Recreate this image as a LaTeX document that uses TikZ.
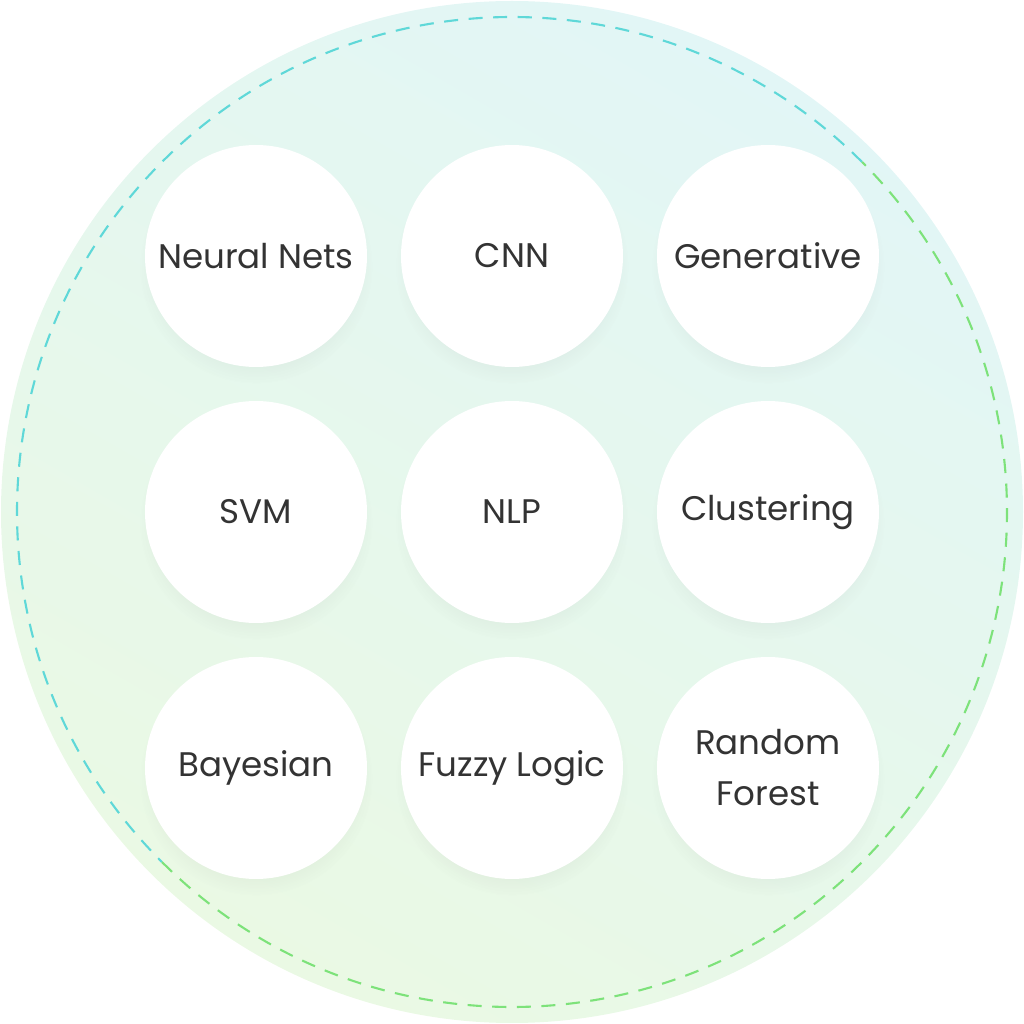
\documentclass[tikz,border=0pt]{standalone}
\usepackage{fontspec}
\setmainfont{Poppins}
\usetikzlibrary{shadows}
\definecolor{ringcyan}{HTML}{5FD8D8}
\definecolor{ringgreen}{HTML}{7DE27A}
\definecolor{bgcyan}{HTML}{E2F6F6}
\definecolor{bggreen}{HTML}{EAF9E4}
\definecolor{labeltext}{HTML}{333333}
\tikzset{
    topic/.style={circle, minimum size=2.22cm, inner sep=0pt, fill=white, align=center,
        font=\fontsize{9.7}{14.5}\selectfont, text=labeltext,
        circular drop shadow={shadow xshift=0pt, shadow yshift=-3pt, shadow scale=1.05, fill=black!60, opacity=0.05}},
}
\begin{document}
\begin{tikzpicture}
    \useasboundingbox (0,0) rectangle (10.24,10.24);

    % Background disc
    \shade[top color=bgcyan, bottom color=bggreen, shading angle=-30] (5.12,5.12) circle (5.11);

    % Dashed ring
    \draw[ringcyan, semithick, dash pattern=on 4pt off 3pt] (5.12,5.12) ++(45:4.95) arc (45:225:4.95);
    \draw[ringgreen, semithick, dash pattern=on 4pt off 3pt] (5.12,5.12) ++(225:4.95) arc (225:405:4.95);

    % Topics
    \node[topic] (neural) at (2.56,7.68) {Neural Nets};
    \node[topic] (cnn) at (5.12,7.68) {CNN};
    \node[topic] (generative) at (7.68,7.68) {Generative};
    \node[topic] (svm) at (2.56,5.12) {SVM};
    \node[topic] (nlp) at (5.12,5.12) {NLP};
    \node[topic] (clustering) at (7.68,5.12) {Clustering};
    \node[topic] (bayesian) at (2.56,2.56) {Bayesian};
    \node[topic] (fuzzy) at (5.12,2.56) {Fuzzy Logic};
    \node[topic] (forest) at (7.68,2.56) {Random\\Forest};
\end{tikzpicture}
\end{document}
